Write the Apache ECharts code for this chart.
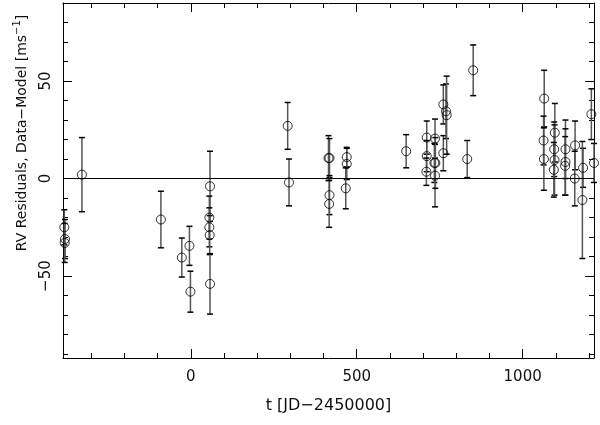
<!DOCTYPE html>
<html><head><meta charset="utf-8">
<script src="https://cdn.jsdelivr.net/npm/echarts@6/dist/echarts.min.js"></script>
<style>html,body{margin:0;padding:0;background:#fff}#c{width:600px;height:425px}</style>
</head><body><div id="c"></div>
<script>
// Observation times t [JD-2450000]
const tValues = [-381, -379, -380, -328, -90, -27, -4, -1, 58, 56, 56, 57, 58,
  292, 296, 415, 418, 418, 417, 470, 470, 467, 649, 711, 711, 710, 736, 734, 736, 737,
  761, 761, 769, 771, 833, 851, 1065, 1063, 1064, 1097, 1095, 1096, 1094,
  1129, 1129, 1128, 1158, 1157, 1182, 1180, 1207, 1215];
// RV residuals, Data-Model [m/s]
const rvResiduals = [-25, -31, -33, 2, -21, -40.5, -34.5, -58, -4, -20, -25, -29, -54,
  27, -2, 10.5, 10.5, -8.5, -13, 11, 7.5, -5, 14, 21, 11.5, 3.5, 20.5, 8, 1.5, 8,
  38, 13, 34.5, 32.5, 10, 55.5, 41, 19.5, 10, 23.5, 15, 9.5, 4.5,
  15, 8.5, 6.5, 17, 0, 5.5, -11, 33, 8];
// 1-sigma errors [m/s]
const rvErrors = [9, 10, 10, 19, 14.5, 10, 10, 10.5, 18, 11, 10, 10, 15.5,
  12, 12, 11.5, 10, 10, 12, 5, 8, 10.5, 8.5, 8.5, 8, 7, 10, 10, 16, 13,
  10, 9, 14, 20, 9.5, 13, 14.5, 12.5, 16, 15, 14, 18, 14,
  15, 17, 15, 12.5, 14, 10, 30, 13, 10];
// Axis tick labels
const xTickValues = [0, 500, 1000];
const xTickLabels = ['0', '500', '1000'];
const yTickValues = [-50, 0, 50];
const yTickLabels = ['\u221250', '0', '50'];

const FONT = 'DejaVu Sans';
const chart = echarts.init(document.getElementById('c'), null, {renderer: 'canvas'});

function axisCommon(min, max, split, showLabels, labelFn, extra) {
  return Object.assign({
    type: 'value', min: min, max: max, splitNumber: split, scale: true,
    axisLine: {show: true, onZero: false, lineStyle: {color: '#000', width: 1}},
    axisTick: {show: true, inside: true, length: 9, lineStyle: {color: '#000', width: 1}},
    minorTick: {show: true, splitNumber: 5, length: 5, lineStyle: {color: '#000', width: 1}},
    splitLine: {show: false}, minorSplitLine: {show: false},
    axisLabel: showLabels ? Object.assign({
      show: true, color: '#111', fontFamily: FONT, fontSize: 15,
      showMinLabel: false, showMaxLabel: false, formatter: labelFn
    }, extra || {}) : {show: false}
  });
}
const xFmt = v => { const i = xTickValues.indexOf(v); return i >= 0 ? xTickLabels[i] : ''; };
const yFmt = v => { const i = yTickValues.indexOf(v); return i >= 0 ? yTickLabels[i] : ''; };

const X_MIN = -385, X_MAX = 1215, Y_MIN = -92, Y_MAX = 90;

const xBottom = axisCommon(X_MIN, X_MAX, 3, true, xFmt, {margin: 12});
xBottom.position = 'bottom';
xBottom.name = 't [JD\u22122450000]';
xBottom.nameLocation = 'middle';
xBottom.nameGap = 40;
xBottom.nameTextStyle = {color: '#111', fontFamily: FONT, fontSize: 16};
const xTop = axisCommon(X_MIN, X_MAX, 3, false);
xTop.position = 'top';
const yLeft = axisCommon(Y_MIN, Y_MAX, 4, true, yFmt, {rotate: 90, margin: 9});
yLeft.position = 'left';
const yRight = axisCommon(Y_MIN, Y_MAX, 4, false);
yRight.position = 'right';

const errData = tValues.map((t, i) => [t, rvResiduals[i] - rvErrors[i], rvResiduals[i] + rvErrors[i]]);
const ptData = tValues.map((t, i) => [t, rvResiduals[i]]);

chart.setOption({
  animation: false,
  backgroundColor: '#fff',
  grid: {left: 63, right: 6, top: 3, bottom: 67, containLabel: false},
  xAxis: [xBottom, xTop],
  yAxis: [yLeft, yRight],
  graphic: [{
    type: 'text', x: 22, y: 133, rotation: Math.PI / 2,
    style: {
      text: '{a|RV Residuals, Data\u2212Model [ms}{s|\u22121}{a|]}',
      align: 'center', verticalAlign: 'middle', fill: '#111',
      rich: {
        a: {fontFamily: FONT, fontSize: 14, fill: '#111'},
        s: {fontFamily: FONT, fontSize: 10, fill: '#111', padding: [0, 0, 9, 0]}
      }
    }
  }],
  series: [{
    type: 'custom', xAxisIndex: 0, yAxisIndex: 0, silent: true,
    data: errData, encode: {x: 0, y: [1, 2]},
    renderItem: function (params, api) {
      const top = api.coord([api.value(0), api.value(2)]);
      const bot = api.coord([api.value(0), api.value(1)]);
      const w = 3;
      return {type: 'group', children: [
        {type: 'line', shape: {x1: top[0], y1: top[1], x2: bot[0], y2: bot[1]}, style: {stroke: '#555', lineWidth: 1.5}},
        {type: 'line', shape: {x1: top[0] - w, y1: top[1], x2: top[0] + w, y2: top[1]}, style: {stroke: '#000', lineWidth: 1.5}},
        {type: 'line', shape: {x1: bot[0] - w, y1: bot[1], x2: bot[0] + w, y2: bot[1]}, style: {stroke: '#000', lineWidth: 1.5}}
      ]};
    }
  }, {
    type: 'scatter', xAxisIndex: 0, yAxisIndex: 0, silent: true,
    data: ptData, symbol: 'circle', symbolSize: 9,
    itemStyle: {color: 'rgba(0,0,0,0)', borderColor: '#000', borderWidth: 1},
    markLine: {
      silent: true, symbol: 'none', label: {show: false},
      lineStyle: {color: '#000', width: 1, type: 'solid'},
      data: [{yAxis: 0}]
    }
  }]
});
</script></body></html>
